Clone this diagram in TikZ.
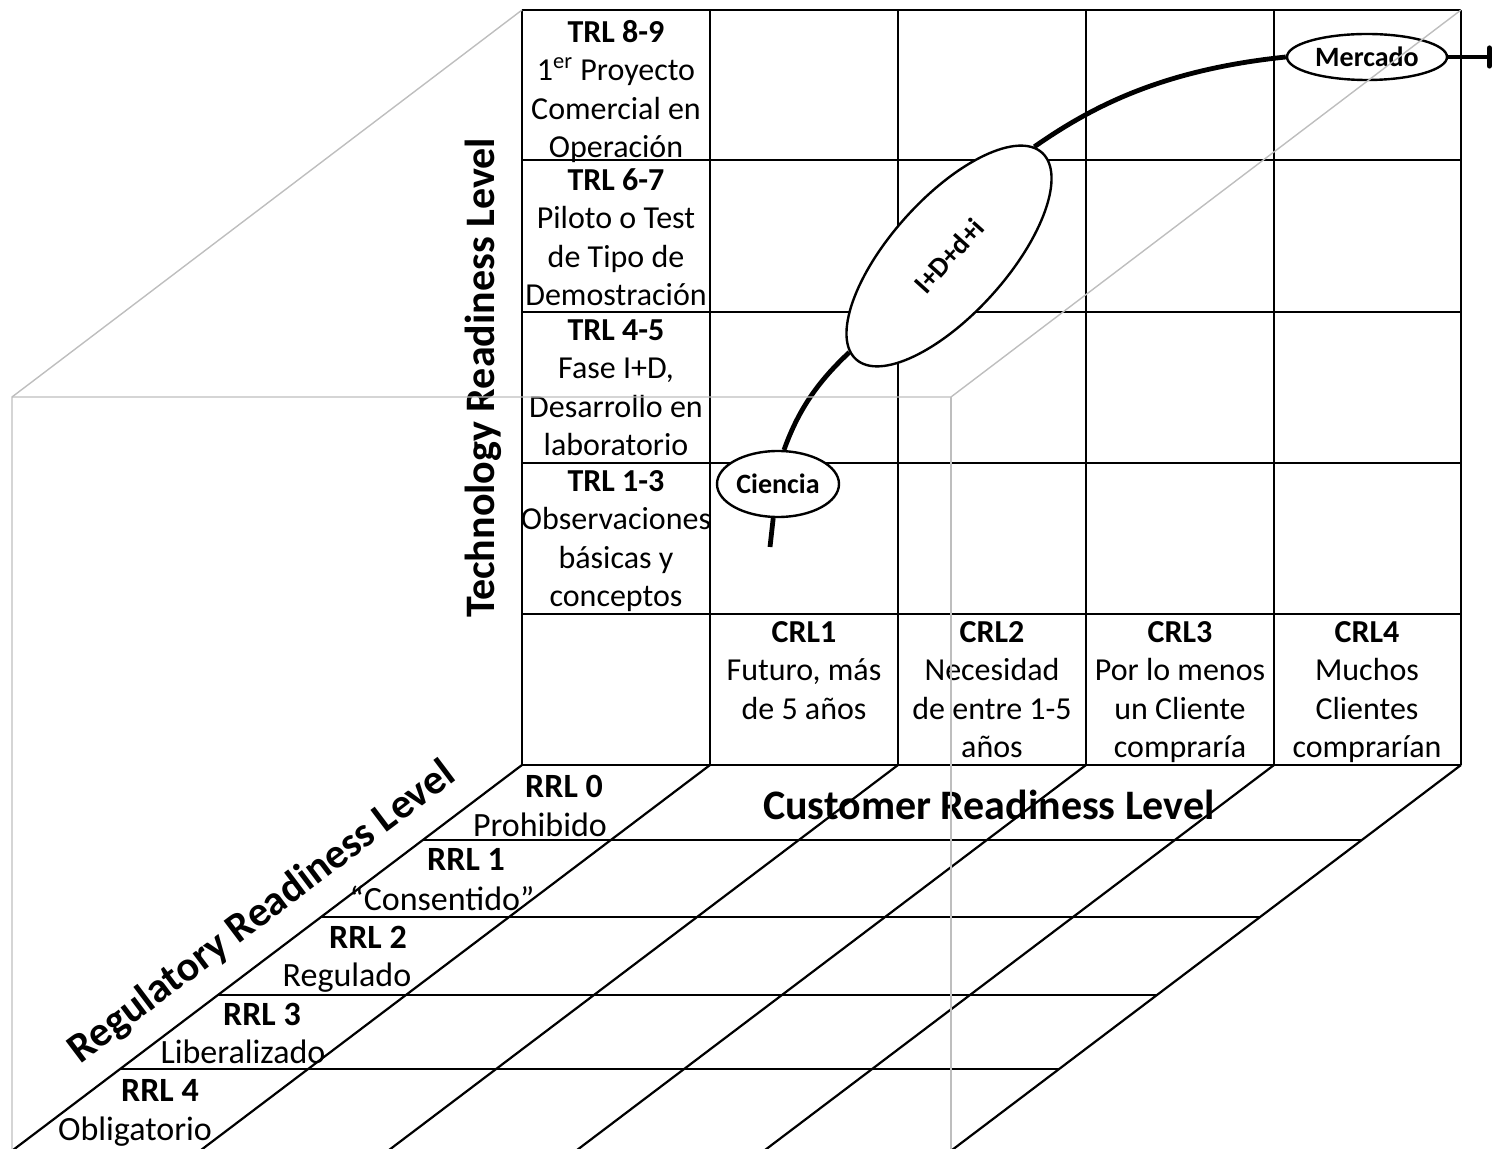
\documentclass[tikz,border=0pt]{standalone}
\usepackage{fontspec}
\setmainfont{Carlito}
\usetikzlibrary{arrows.meta,shapes.geometric}
\definecolor{graycol}{RGB}{190,190,190}
\tikzset{
  gridline/.style={line width=1.1pt, black},
  grayline/.style={line width=0.7pt, draw=graycol},
  cell/.style={inner sep=0pt, align=center, anchor=north, font=\fontsize{16}{19.25}\selectfont},
  rrlb/.style={inner sep=0pt, anchor=base, font=\fontsize{17}{20}\selectfont\bfseries},
  rrln/.style={inner sep=0pt, anchor=base, font=\fontsize{17}{20}\selectfont},
  axistitle/.style={inner sep=0pt, font=\fontsize{21}{25}\selectfont\bfseries},
  bubble/.style={draw, ellipse, fill=white, line width=1.2pt, inner sep=0pt, font=\fontsize{14}{16}\selectfont\bfseries},
  pathline/.style={line width=2.4pt, black},
}
\begin{document}
\begin{tikzpicture}[x=0.5pt,y=-0.5pt]
\useasboundingbox (0,0) rectangle (1498,1149);
\clip (0,0) rectangle (1498,1149);
% front grid
\foreach \yy in {10,160,312,463,614,765} \draw[gridline] (522,\yy) -- (1461,\yy);
\foreach \xx in {522,710,898,1086,1274,1461} \draw[gridline] (\xx,10) -- (\xx,765);
% floor grid
\foreach \xx in {522,710,898,1086,1274,1461} \draw[gridline] (\xx,765) -- ({\xx-1.322*400},1165);
\foreach \yy in {840,917,995,1069} \draw[gridline] ({522-1.322*(\yy-765)},\yy) -- ({1461-1.322*(\yy-765)},\yy);
% TRL cells
\node[cell] (trl89) at (616,20) {\textbf{TRL 8-9}\\1\textsuperscript{er} Proyecto\\Comercial en\\Operación};
\node[cell] (trl67) at (616,168) {\textbf{TRL 6-7}\\Piloto o Test\\de Tipo de\\Demostración};
\node[cell] (trl45) at (616,319) {\textbf{TRL 4-5}\\Fase I+D,\\Desarrollo en\\laboratorio};
\node[cell] (trl13) at (616,470) {\textbf{TRL 1-3}\\Observaciones\\básicas y\\conceptos};
% CRL cells
\node[cell] (crl1) at (804,621) {\textbf{CRL1}\\Futuro, más\\de 5 años};
\node[cell] (crl2) at (992,621) {\textbf{CRL2}\\Necesidad\\de entre 1-5\\años};
\node[cell] (crl3) at (1180,621) {\textbf{CRL3}\\Por lo menos\\un Cliente\\compraría};
\node[cell] (crl4) at (1367,621) {\textbf{CRL4}\\Muchos\\Clientes\\comprarían};
% RRL labels
\node[rrlb] (rrl0) at (564,797) {RRL 0};
\node[rrln] (rrl0t) at (540,836) {Prohibido};
\node[rrlb] (rrl1) at (466,870) {RRL 1};
\node[rrln] (rrl1t) at (442,910) {“Consentido”};
\node[rrlb] (rrl2) at (368,948) {RRL 2};
\node[rrln] (rrl2t) at (347,986) {Regulado};
\node[rrlb] (rrl3) at (262,1025) {RRL 3};
\node[rrln] (rrl3t) at (243,1063) {Liberalizado};
\node[rrlb] (rrl4) at (160,1101) {RRL 4};
\node[rrln] (rrl4t) at (135,1140) {Obligatorio};
% axis titles
\node[axistitle, rotate=90] (trltitle) at (483,378) {Technology Readiness Level};
\node[axistitle] (crltitle) at (989,805) {Customer Readiness Level};
\node[axistitle, rotate=37] (rrltitle) at (262,913) {Regulatory Readiness Level};
% bubbles
\node[bubble, minimum width=61pt, minimum height=33pt] (ciencia) at (778,484) {Ciencia};
\node[bubble, minimum width=80pt, minimum height=23pt] (mercado) at (1367,57) {Mercado};
\node[bubble, minimum width=139pt, minimum height=58pt, rotate=48] (idi) at (949,256) {I+D+d+i};
% path
\coordinate (c0) at (770,547);
\coordinate (c1) at (1492,57);
\draw[pathline] (c0) -- (ciencia.262);
\draw[pathline] (ciencia.80) .. controls (800,405) and (822,378) .. (idi.176);
\draw[pathline] (idi.4) .. controls (1090,108) and (1160,70) .. (mercado.west);
\draw[pathline, -{Bar[width=9pt, line width=2.6pt, round]}] (mercado.east) -- (c1);
% gray cube lines
\draw[grayline] (522,10) -- (12,397) -- (12,1160);
\draw[grayline] (12,397) -- (951,397) -- (1461,10);
\draw[grayline] (951,397) -- (951,1160);
\end{tikzpicture}
\end{document}
